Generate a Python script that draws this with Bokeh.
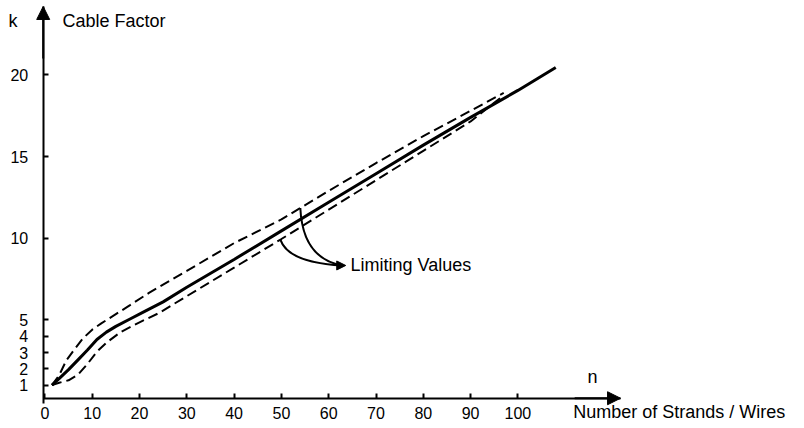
from bokeh.plotting import figure
from bokeh.models import Range1d, FixedTicker, Label, Arrow, NormalHead
from bokeh.embed import file_html
from bokeh.resources import INLINE

# ---- data ----
solid_n = [1.5, 3, 5, 7, 9, 11, 13, 15, 18, 21, 25, 30, 40, 50, 60, 70, 80, 90, 100, 108]
solid_k = [1.0, 1.4, 1.95, 2.55, 3.15, 3.8, 4.25, 4.6, 5.05, 5.5, 6.1, 7.0, 8.7, 10.45, 12.2, 13.95, 15.7, 17.4, 19.05, 20.45]

upper_n = [1.5, 3, 4.5, 6, 8, 10, 12, 15, 18, 22, 30, 40, 50, 60, 70, 80, 90, 97]
upper_k = [1.0, 1.6, 2.5, 3.1, 3.85, 4.4, 4.8, 5.35, 5.9, 6.65, 8.0, 9.7, 11.15, 12.9, 14.6, 16.25, 17.8, 18.9]

lower_n = [1.5, 3, 5, 7, 9, 11, 13, 16, 20, 24, 30, 40, 50, 60, 70, 80, 90, 97]
lower_k = [1.0, 1.15, 1.3, 1.65, 2.3, 3.05, 3.6, 4.25, 4.85, 5.4, 6.45, 8.2, 9.95, 11.75, 13.55, 15.35, 17.15, 18.75]

x_ticks = [0, 10, 20, 30, 40, 50, 60, 70, 80, 90, 100]
y_ticks = [1, 2, 3, 4, 5, 10, 15, 20]

# leader lines for "Limiting Values": start on a limit curve, end at the label
leader_x0 = [49.8, 54.0]
leader_y0 = [9.9, 11.85]
leader_cx = [51.5, 54.5]
leader_cy = [8.5, 8.75]
leader_x1 = [62.9, 62.9]
leader_y1 = [8.33, 8.33]

# axes crossing point and extents
X0, Y0 = -0.36, 0.2
X_END, Y_END = 121.7, 24.19

FONT = "Liberation Sans"

p = figure(width=804, height=428, output_backend="svg", toolbar_location=None,
           x_range=Range1d(-9.387, 160.59), y_range=Range1d(-1.653, 24.556),
           min_border_left=0, min_border_right=0, min_border_top=0,
           min_border_bottom=0)
p.outline_line_color = None
p.grid.visible = False
p.background_fill_color = "white"
p.border_fill_color = "white"

for ax in (p.xaxis[0], p.yaxis[0]):
    ax.axis_line_width = 2
    ax.axis_line_color = "black"
    ax.major_tick_line_width = 2
    ax.major_tick_line_color = "black"
    ax.major_tick_in = 5
    ax.major_tick_out = 0
    ax.minor_tick_line_color = None
    ax.major_label_text_font = FONT
    ax.major_label_text_font_size = "16px"
    ax.major_label_text_color = "black"

p.xaxis.ticker = FixedTicker(ticks=x_ticks)
p.yaxis.ticker = FixedTicker(ticks=y_ticks)
p.xaxis.fixed_location = Y0
p.yaxis.fixed_location = X0
p.xaxis.bounds = (X0, X_END)
p.yaxis.bounds = (Y0 - 0.3, Y_END)
p.xaxis.major_label_standoff = 9
p.yaxis.major_label_standoff = 15

# curves
p.line(upper_n, upper_k, line_color="black", line_width=2, line_dash="10 5")
p.line(lower_n, lower_k, line_color="black", line_width=2, line_dash="10 5")
p.line(solid_n, solid_k, line_color="black", line_width=3)

# leader lines
p.quadratic(x0=leader_x0, y0=leader_y0, x1=leader_x1, y1=leader_y1,
            cx=leader_cx, cy=leader_cy, line_color="black", line_width=2)
p.add_layout(Arrow(end=NormalHead(size=9, fill_color="black", line_color="black"),
                   x_start=62.3, y_start=8.33, x_end=63.6, y_end=8.33,
                   line_color="black", line_width=2))

# axis arrowheads
p.add_layout(Arrow(end=NormalHead(size=13, fill_color="black", line_color="black"),
                   x_start=X0, y_start=21.0, x_end=X0, y_end=Y_END,
                   line_color="black", line_width=2))
p.add_layout(Arrow(end=NormalHead(size=13, fill_color="black", line_color="black"),
                   x_start=112, y_start=Y0, x_end=X_END, y_end=Y0,
                   line_color="black", line_width=2))

def lab(x, y, t, size="18px"):
    p.add_layout(Label(x=x, y=y, text=t, text_font=FONT, text_font_size=size,
                       text_color="black", text_baseline="middle", text_align="left"))

lab(-7.7, 23.33, "k")
lab(3.7, 23.33, "Cable Factor")
lab(114.7, 1.5, "n")
lab(111.7, -0.64, "Number of Strands / Wires")
lab(64.6, 8.33, "Limiting Values")

open("out.html", "w").write(file_html(p, INLINE))
